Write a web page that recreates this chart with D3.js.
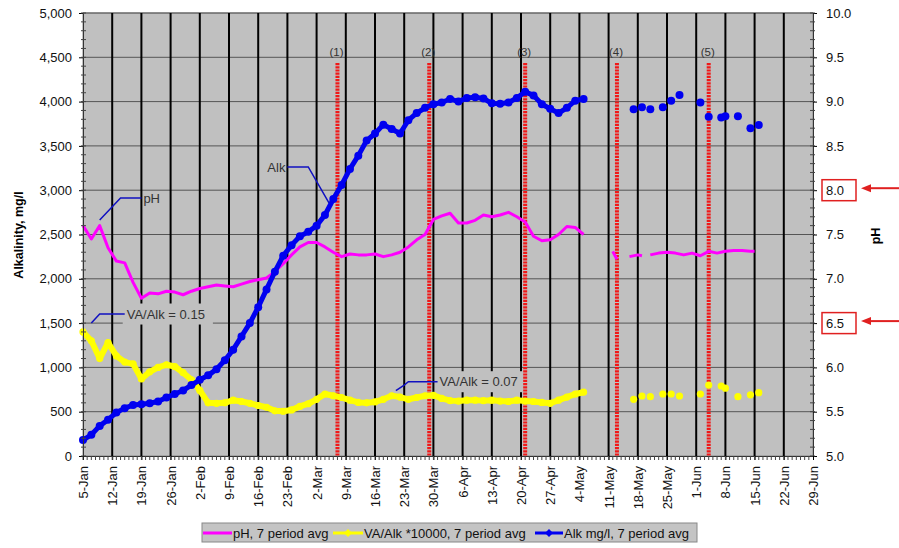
<!DOCTYPE html>
<html>
<head>
<meta charset="utf-8">
<script src="https://d3js.org/d3.v7.min.js"></script>
<style>
body { margin: 0; background: #fff; }
svg text { font-family: "Liberation Sans", Arial, sans-serif; }
</style>
</head>
<body>
<svg id="drawing_region"></svg>
<script>
// ---- data ----
const xTickLabels = ["5-Jan","12-Jan","19-Jan","26-Jan","2-Feb","9-Feb","16-Feb","23-Feb","2-Mar","9-Mar",
    "16-Mar","23-Mar","30-Mar","6-Apr","13-Apr","20-Apr","27-Apr","4-May","11-May","18-May",
    "25-May","1-Jun","8-Jun","15-Jun","22-Jun","29-Jun"];
const leftTicks = [0, 500, 1000, 1500, 2000, 2500, 3000, 3500, 4000, 4500, 5000];
const rightTicks = [5.0, 5.5, 6.0, 6.5, 7.0, 7.5, 8.0, 8.5, 9.0, 9.5, 10.0];
const boxedTicks = [8.0, 6.5];

// days counted from 5-Jan
const contDays = [0,2,4,6,8,10,12,14,16,18,20,22,24,26,28,30,32,34,36,38,40,42,44,46,48,50,52,54,56,58,
    60,62,64,66,68,70,72,74,76,78,80,82,84,86,88,90,92,94,96,98,100,102,104,106,108,110,112,114,116,118,120];
const alkValues = [180,240,340,410,490,540,575,585,595,615,
    660,700,740,800,860,910,980,1080,1200,1350,
    1500,1680,1880,2080,2260,2380,2480,2530,2600,2720,
    2900,3060,3240,3390,3560,3640,3740,3690,3640,3790,
    3870,3930,3970,3990,4030,4000,4040,4050,4035,3980,
    3975,3990,4040,4110,4070,3970,3920,3870,3930,4010,
    4030];
const phValues = [7.60,7.45,7.60,7.35,7.20,7.18,6.96,6.78,6.84,6.83,
    6.86,6.85,6.82,6.86,6.89,6.91,6.93,6.92,6.91,6.94,
    6.97,6.99,7.01,7.08,7.17,7.27,7.36,7.41,7.41,7.36,
    7.30,7.25,7.28,7.27,7.27,7.28,7.25,7.27,7.30,7.36,
    7.44,7.50,7.67,7.71,7.74,7.63,7.63,7.66,7.72,7.70,
    7.72,7.75,7.70,7.64,7.48,7.43,7.44,7.50,7.59,7.58,
    7.50];
const vaValues = [1400,1300,1100,1280,1130,1060,1040,870,950,1000,
    1030,1010,940,860,740,600,595,600,630,615,
    595,570,550,510,505,520,560,590,640,700,
    680,660,630,605,600,610,640,680,665,640,
    660,680,685,650,625,620,630,630,625,630,
    620,615,630,620,615,605,595,630,665,700,
    720];

const spotDays = [132,134,136,139,141,143,148,150,153,154,157,160,162];
const alkSpots = [3915,3935,3915,3935,4010,4075,3990,3830,3820,3835,3835,3700,3735];
const vaSpots = [640,677,670,700,700,677,700,800,790,765,670,690,715];

const phLateDays = [127,128,129,131,133,134,135,136,138,140,142,144,146,148,150,152,154,156,158,160,161];
const phLateValues = [7.31,7.22,null,7.25,7.27,7.26,null,7.27,7.29,7.30,7.29,7.27,7.29,7.26,7.31,7.29,7.31,7.32,7.32,7.31,7.31];

const eventDays = [61, 83, 106, 128, 150];
const eventLabels = ["(1)", "(2)", "(3)", "(4)", "(5)"];

const legendLabels = ["pH, 7 period avg", "VA/Alk *10000, 7 period avg", "Alk mg/l, 7 period avg"];

// callouts: points as [day, alkalinity]
const callouts = [
    { text: "pH", pts: [[4.8, 2664], [9.35, 2912], [14.9, 2912]], bg: false },
    { text: "Alk", pts: [[49.1, 3262], [54.4, 3262], [59.2, 2855]], bg: false, anchorEnd: true },
    { text: "VA/Alk = 0.15", pts: [[2.2, 1501], [4.1, 1603], [10.6, 1603]], bg: true },
    { text: "VA/Alk = 0.07", pts: [[75.5, 737], [77.2, 801], [78.8, 839], [85.0, 839]], bg: true }
];

const startDate = new Date(2009, 0, 5);
const toDate = d => d3.timeDay.offset(startDate, d);
const parseTick = d3.timeParse("%d-%b-%Y");

class AlkChart {
    constructor(config) {
        this.config = config;
        this.init();
    }

    init() {
        let self = this;
        const c = self.config;
        self.svg = d3.select(c.parent)
            .attr('width', c.width)
            .attr('height', c.height);
        self.chart = self.svg.append('g')
            .attr('transform', `translate(${c.margin.left}, ${c.margin.top})`);
        self.inner_width = c.width - c.margin.left - c.margin.right;
        self.inner_height = c.height - c.margin.top - c.margin.bottom;

        self.xticks = xTickLabels.map(s => parseTick(s + "-2009"));
        self.xscale = d3.scaleTime()
            .domain([self.xticks[0], self.xticks[self.xticks.length - 1]])
            .range([0, self.inner_width]);
        self.yscale = d3.scaleLinear().domain([0, 5000]).range([self.inner_height, 0]);
        self.rscale = d3.scaleLinear().domain([5, 10]).range([self.inner_height, 0]);
    }

    render() {
        let self = this;
        const W = self.inner_width, H = self.inner_height;
        const g = self.chart;

        g.append('rect').attr('width', W).attr('height', H)
            .attr('fill', '#c0c0c0').attr('stroke', '#8a8a8a');

        // horizontal grid
        g.append('g').selectAll('line').data(leftTicks.slice(1)).join('line')
            .attr('x1', 0).attr('x2', W)
            .attr('y1', d => self.yscale(d)).attr('y2', d => self.yscale(d))
            .attr('stroke', '#555').attr('stroke-width', 1);

        // vertical grid (weekly)
        g.append('g').selectAll('line').data(self.xticks.slice(1, -1)).join('line')
            .attr('x1', d => self.xscale(d)).attr('x2', d => self.xscale(d))
            .attr('y1', 0).attr('y2', H)
            .attr('stroke', '#000').attr('stroke-width', 2);

        // label backgrounds sit over the grid, under the series
        const calloutBg = g.append('g');

        // event lines
        g.append('g').selectAll('line').data(eventDays).join('line')
            .attr('x1', d => self.xscale(toDate(d))).attr('x2', d => self.xscale(toDate(d)))
            .attr('y1', 50).attr('y2', H)
            .attr('stroke', '#f01818').attr('stroke-width', 4)
            .attr('stroke-dasharray', '2.2,1');
        g.append('g').selectAll('text').data(eventDays).join('text')
            .attr('x', d => self.xscale(toDate(d)) - 1).attr('y', 43)
            .attr('text-anchor', 'middle').attr('font-size', '11.5px').attr('fill', '#333')
            .text((d, i) => eventLabels[i]);

        // series
        const cont = contDays.map((d, i) => ({ date: toDate(d), alk: alkValues[i], ph: phValues[i], va: vaValues[i] }));
        const spots = spotDays.map((d, i) => ({ date: toDate(d), alk: alkSpots[i], va: vaSpots[i] }));
        const phLate = phLateDays.map((d, i) => ({ date: toDate(d), ph: phLateValues[i] }));

        const lineL = key => d3.line().x(d => self.xscale(d.date)).y(d => self.yscale(d[key]));
        const phLine = d3.line().defined(d => d.ph != null)
            .x(d => self.xscale(d.date)).y(d => self.rscale(d.ph));

        // VA/Alk yellow
        g.append('path').attr('d', lineL('va')(cont))
            .attr('fill', 'none').attr('stroke', '#ffff00').attr('stroke-width', 6)
            .attr('stroke-linejoin', 'round');
        g.append('g').selectAll('circle').data(cont.concat(spots)).join('circle')
            .attr('cx', d => self.xscale(d.date)).attr('cy', d => self.yscale(d.va))
            .attr('r', 3.6).attr('fill', '#ffff00');

        // pH magenta
        [cont, phLate].forEach(part => {
            g.append('path').attr('d', phLine(part))
                .attr('fill', 'none').attr('stroke', '#ff00ff').attr('stroke-width', 3)
                .attr('stroke-linejoin', 'round');
        });

        // Alk blue
        g.append('path').attr('d', lineL('alk')(cont))
            .attr('fill', 'none').attr('stroke', '#0000f0').attr('stroke-width', 5)
            .attr('stroke-linejoin', 'round');
        g.append('g').selectAll('circle').data(cont.concat(spots)).join('circle')
            .attr('cx', d => self.xscale(d.date)).attr('cy', d => self.yscale(d.alk))
            .attr('r', 4).attr('fill', '#0000f0');

        // callouts
        const calloutFg = g.append('g');
        callouts.forEach(cl => {
            const pts = cl.pts.map(p => [self.xscale(toDate(p[0])), self.yscale(p[1])]);
            const last = pts[pts.length - 1];
            const first = pts[0];
            const t = calloutFg.append('text')
                .attr('font-size', '13px').attr('fill', '#333').attr('dy', '0.35em')
                .text(cl.text);
            if (cl.anchorEnd) {
                t.attr('x', first[0] - 2).attr('y', first[1]).attr('text-anchor', 'end');
            } else {
                t.attr('x', last[0] + 2).attr('y', last[1]);
            }
            if (cl.bg) {
                const bb = t.node().getBBox();
                calloutBg.append('rect')
                    .attr('x', bb.x - 4).attr('y', bb.y - 3)
                    .attr('width', bb.width + 12).attr('height', bb.height + 6)
                    .attr('fill', '#c0c0c0');
            }
            calloutFg.append('path').attr('d', d3.line()(pts))
                .attr('fill', 'none').attr('stroke', '#1010c0').attr('stroke-width', 1.5);
        });

        // left axis
        const yaxis = d3.axisLeft(self.yscale).tickValues(leftTicks)
            .tickFormat(d3.format(',')).tickSize(4).tickPadding(7);
        const ya = g.append('g').call(yaxis);
        ya.selectAll('text').attr('font-size', '13px').attr('fill', '#111');
        ya.select('.domain').attr('stroke', '#333');
        g.append('g').selectAll('line').data(d3.range(0, 5001, 100)).join('line')
            .attr('x1', -2).attr('x2', 3)
            .attr('y1', d => self.yscale(d)).attr('y2', d => self.yscale(d))
            .attr('stroke', '#444');

        // right axis
        const raxis = d3.axisRight(self.rscale).tickValues(rightTicks)
            .tickFormat(d3.format('.1f')).tickSize(4).tickPadding(9);
        const ra = g.append('g').attr('transform', `translate(${W},0)`).call(raxis);
        ra.selectAll('text').attr('font-size', '13px').attr('fill', '#111');
        ra.select('.domain').attr('stroke', '#333');
        g.append('g').attr('transform', `translate(${W},0)`)
            .selectAll('line').data(d3.range(5, 10.001, 0.1)).join('line')
            .attr('x1', -3).attr('x2', 2)
            .attr('y1', d => self.rscale(d)).attr('y2', d => self.rscale(d))
            .attr('stroke', '#444');

        // boxed pH ticks with arrows
        const bx = g.append('g').attr('transform', `translate(${W},0)`);
        boxedTicks.forEach(v => {
            const y = self.rscale(v);
            bx.append('rect').attr('x', 9).attr('y', y - 10.5)
                .attr('width', 34).attr('height', 21)
                .attr('fill', 'none').attr('stroke', '#e02020').attr('stroke-width', 1.5);
            bx.append('line').attr('x1', 56).attr('x2', 86)
                .attr('y1', y - 2).attr('y2', y - 2)
                .attr('stroke', '#e02020').attr('stroke-width', 2);
            bx.append('path')
                .attr('d', `M48,${y - 2} L58,${y - 6} L58,${y + 2} Z`)
                .attr('fill', '#e02020');
        });

        // x axis
        const xaxis = d3.axisBottom(self.xscale).tickValues(self.xticks)
            .tickFormat(d3.timeFormat('%-d-%b')).tickSize(4).tickPadding(8);
        const xa = g.append('g').attr('transform', `translate(0,${H})`).call(xaxis);
        xa.select('.domain').attr('stroke', '#333');
        xa.selectAll('text')
            .attr('font-size', '13px').attr('fill', '#111')
            .attr('text-anchor', 'end')
            .attr('transform', 'rotate(-90)')
            .attr('x', -10).attr('y', 0).attr('dy', '0.35em');
        g.append('g').attr('transform', `translate(0,${H})`)
            .selectAll('line').data(d3.timeDay.range(self.xticks[0], self.xticks[self.xticks.length - 1])).join('line')
            .attr('x1', d => self.xscale(d)).attr('x2', d => self.xscale(d))
            .attr('y1', 0).attr('y2', 4).attr('stroke', '#444');

        // axis titles
        self.svg.append('text')
            .attr('transform', `translate(22.5, 235) rotate(-90)`)
            .attr('text-anchor', 'middle').attr('font-size', '12.5px').attr('font-weight', 'bold')
            .text('Alkalinity, mg/l');
        self.svg.append('text')
            .attr('transform', `translate(879.5, 236) rotate(-90)`)
            .attr('text-anchor', 'middle').attr('font-size', '12.5px').attr('font-weight', 'bold')
            .text('pH');

        // legend
        const lg = self.svg.append('g').attr('transform', 'translate(202,523)');
        lg.append('rect').attr('width', 495).attr('height', 19)
            .attr('fill', '#c4c4c4').attr('stroke', '#888');
        const items = [
            { x: 1, w: 29, color: '#ff00ff', mark: false },
            { x: 131, w: 30, color: '#ffff00', mark: true },
            { x: 333, w: 28, color: '#0000f0', mark: true }
        ];
        items.forEach((it, i) => {
            lg.append('line').attr('x1', it.x).attr('x2', it.x + it.w)
                .attr('y1', 10).attr('y2', 10)
                .attr('stroke', it.color).attr('stroke-width', 3);
            if (it.mark) {
                const mx = it.x + it.w / 2;
                lg.append('path').attr('d', `M${mx},6 L${mx + 4},10 L${mx},14 L${mx - 4},10 Z`)
                    .attr('fill', it.color);
            }
            lg.append('text').attr('x', it.x + it.w + 1).attr('y', 10).attr('dy', '0.35em')
                .attr('font-size', '13px').attr('fill', '#111')
                .text(legendLabels[i]);
        });
    }
}

const chart = new AlkChart({
    parent: '#drawing_region',
    width: 899,
    height: 548,
    margin: { top: 13, right: 86, bottom: 92, left: 83 }
});
chart.render();
</script>
</body>
</html>
